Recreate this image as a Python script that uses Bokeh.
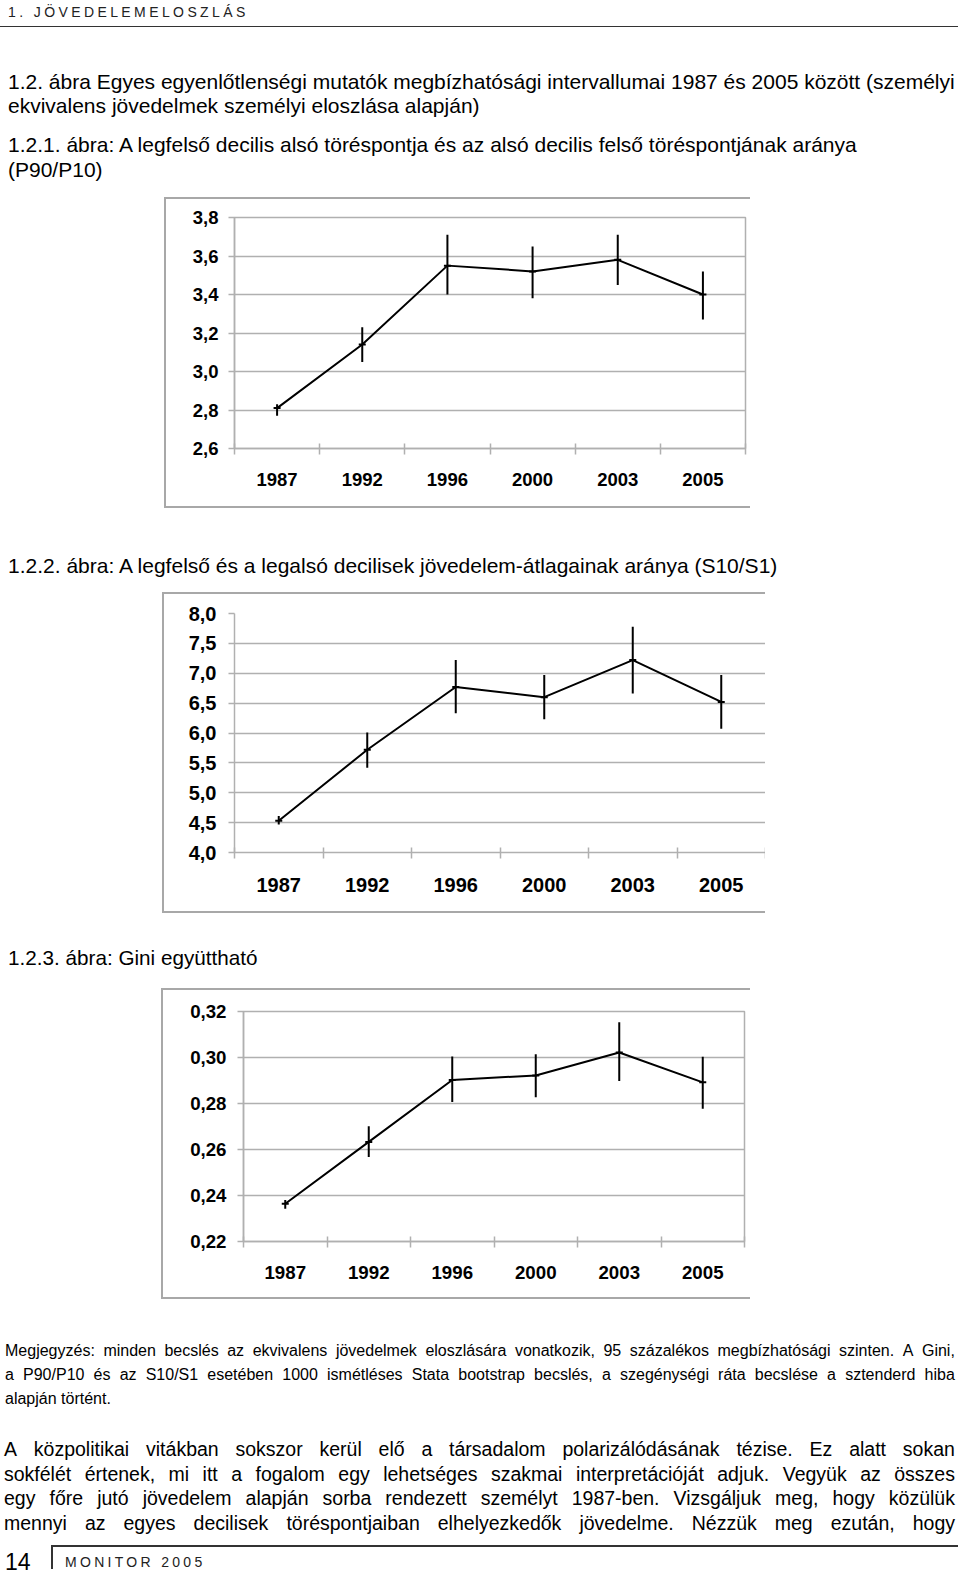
from bokeh.plotting import figure
from bokeh.models import Range1d, FixedTicker, Div, Spacer
from bokeh.layouts import column, row
from bokeh.embed import file_html
from bokeh.resources import INLINE

# ---------------- data ----------------
years = ["1987", "1992", "1996", "2000", "2003", "2005"]

p90_mid = [2.81, 3.14, 3.55, 3.52, 3.58, 3.40]
p90_lo = [2.77, 3.05, 3.40, 3.38, 3.45, 3.27]
p90_hi = [2.83, 3.23, 3.71, 3.65, 3.71, 3.52]
p90_ticks = [2.6, 2.8, 3.0, 3.2, 3.4, 3.6, 3.8]
p90_labels = ["2,6", "2,8", "3,0", "3,2", "3,4", "3,6", "3,8"]

s10_mid = [4.53, 5.72, 6.77, 6.60, 7.22, 6.52]
s10_lo = [4.47, 5.42, 6.33, 6.23, 6.66, 6.07]
s10_hi = [4.61, 6.01, 7.22, 6.97, 7.78, 6.97]
s10_ticks = [4.0, 4.5, 5.0, 5.5, 6.0, 6.5, 7.0, 7.5, 8.0]
s10_labels = ["4,0", "4,5", "5,0", "5,5", "6,0", "6,5", "7,0", "7,5", "8,0"]

gini_mid = [0.2364, 0.2633, 0.2902, 0.2922, 0.3022, 0.2892]
gini_lo = [0.2342, 0.2567, 0.2807, 0.2827, 0.2898, 0.2777]
gini_hi = [0.2380, 0.2701, 0.3004, 0.3014, 0.3153, 0.3003]
gini_ticks = [0.22, 0.24, 0.26, 0.28, 0.30, 0.32]
gini_labels = ["0,22", "0,24", "0,26", "0,28", "0,30", "0,32"]

GRAY = "#b0b0b0"
FRAME = "#a8a8a8"
FONT = "'Liberation Sans', Arial, sans-serif"


def make_chart(w, h, ylim, ticks, labels, mid, lo, hi, bl, br, bt, bb,
               fsize, ystand, xstand, outline=True):
    p = figure(width=w, height=h, x_range=Range1d(-0.5, len(years) - 0.5),
               y_range=Range1d(*ylim), output_backend="svg", toolbar_location=None,
               min_border_left=bl, min_border_right=br, min_border_top=bt,
               min_border_bottom=bb, margin=0,
               styles={"box-shadow": f"inset 2px 0 0 0 {FRAME}, inset 0 2px 0 0 {FRAME}, inset 0 -2px 0 0 {FRAME}"})
    p.background_fill_color = None
    p.border_fill_color = None
    p.outline_line_color = GRAY if outline else None
    p.outline_line_width = 1.5
    xs = list(range(len(years)))
    p.segment(x0=xs, y0=lo, x1=xs, y1=hi, line_color="black", line_width=2)
    p.line(xs, mid, line_color="black", line_width=2)
    p.scatter(xs, mid, marker="dash", size=7, line_color="black", line_width=2)

    xa = p.xaxis[0]
    xa.ticker = FixedTicker(ticks=xs, minor_ticks=[x - 0.5 for x in xs] + [len(xs) - 0.5])
    xa.major_label_overrides = {i: yv for i, yv in enumerate(years)}
    xa.major_tick_line_color = None
    xa.major_tick_in = 0
    xa.major_tick_out = 0
    xa.minor_tick_line_color = GRAY
    xa.minor_tick_line_width = 1.5
    xa.minor_tick_in = 5
    xa.minor_tick_out = 6
    xa.axis_line_color = GRAY
    xa.axis_line_width = 1.5
    xa.major_label_standoff = xstand

    ya = p.yaxis[0]
    ya.ticker = FixedTicker(ticks=ticks, minor_ticks=[])
    ya.major_label_overrides = dict(zip(ticks, labels))
    ya.major_tick_in = 0
    ya.major_tick_out = 6
    ya.major_tick_line_color = GRAY
    ya.major_tick_line_width = 1.5
    ya.minor_tick_line_color = None
    ya.axis_line_color = GRAY
    ya.axis_line_width = 1.5
    ya.major_label_standoff = ystand

    for ax in (xa, ya):
        ax.major_label_text_font = "Liberation Sans"
        ax.major_label_text_font_style = "bold"
        ax.major_label_text_font_size = f"{fsize}px"
        ax.major_label_text_color = "black"

    p.xgrid.visible = False
    p.ygrid.ticker = FixedTicker(ticks=ticks, minor_ticks=[])
    p.ygrid.grid_line_color = GRAY
    p.ygrid.grid_line_width = 1.5
    return p


def txt(text, left, yc, size, ls=0, width=None, color="#000"):
    top = yc - 0.5865 * size
    base = (f"position:absolute;left:{left}px;top:{top:.1f}px;font-size:{size}px;"
            f"line-height:{1.2 * size:.2f}px;white-space:nowrap;letter-spacing:{ls}px;color:{color};")
    if width:
        inner = "".join(f"<span>{w}</span>" for w in text.split(" "))
        return (f'<div style="{base}width:{width}px;display:flex;'
                f'justify-content:space-between;">{inner}</div>')
    return f'<div style="{base}">{text}</div>'


def rule(left, top, w, h, color="#333"):
    return (f'<div style="position:absolute;left:{left}px;top:{top}px;width:{w}px;'
            f'height:{h}px;background:{color};"></div>')


def block(h, parts):
    html = (f'<div style="position:relative;width:950px;height:{h}px;font-family:{FONT};">'
            + "".join(parts) + "</div>")
    return Div(text=html, width=950, height=h, margin=0, styles={"overflow": "visible"})


# ---------------- texts ----------------
header = "1. JÖVEDELEMELOSZLÁS"
title_l1 = "1.2. ábra Egyes egyenlőtlenségi mutatók megbízhatósági intervallumai 1987 és 2005 között (személyi"
title_l2 = "ekvivalens jövedelmek személyi eloszlása alapján)"
t1_l1 = "1.2.1. ábra: A legfelső decilis alsó töréspontja és az alsó decilis felső töréspontjának aránya"
t1_l2 = "(P90/P10)"
t2 = "1.2.2. ábra: A legfelső és a legalsó decilisek jövedelem-átlagainak aránya (S10/S1)"
t3 = "1.2.3. ábra: Gini együttható"
note = [
    "Megjegyzés: minden becslés az ekvivalens jövedelmek eloszlására vonatkozik, 95 százalékos megbízhatósági szinten. A Gini,",
    "a P90/P10 és az S10/S1 esetében 1000 ismétléses Stata bootstrap becslés, a szegénységi ráta becslése a sztenderd hiba",
    "alapján történt.",
]
para = [
    "A közpolitikai vitákban sokszor kerül elő a társadalom polarizálódásának tézise. Ez alatt sokan",
    "sokfélét értenek, mi itt a fogalom egy lehetséges szakmai interpretációját adjuk. Vegyük az összes",
    "egy főre jutó jövedelem alapján sorba rendezett személyt 1987-ben. Vizsgáljuk meg, hogy közülük",
    "mennyi az egyes decilisek töréspontjaiban elhelyezkedők jövedelme. Nézzük meg ezután, hogy",
]
footer_num = "14"
footer_txt = "MONITOR 2005"

TS = 21  # title font size

div1 = block(189, [
    txt(header, 0, 4.5, 14, ls=3.4, color="#222"),
    rule(-8, 17.5, 958, 1.5),
    txt(title_l1, 0, 73.5, TS),
    txt(title_l2, 0, 97.5, TS),
    txt(t1_l1, 0, 135.8, TS),
    txt(t1_l2, 0, 161, TS),
])

fig1 = make_chart(586, 311, (2.6, 3.8), p90_ticks, p90_labels, p90_mid, p90_lo, p90_hi,
                  70, 5, 20, 60, 18.5, 10, 18)

div2 = block(84, [txt(t2, 0, 57, TS)])

fig2 = make_chart(603, 321, (4.0, 8.0), s10_ticks, s10_labels, s10_mid, s10_lo, s10_hi,
                  72, 0, 21, 61, 20, 12, 19, outline=False)

div3 = block(75, [txt(t3, 0, 45, 20.7)])

fig3 = make_chart(589, 311, (0.22, 0.32), gini_ticks, gini_labels, gini_mid, gini_lo, gini_hi,
                  82, 6, 23, 58, 18.7, 11, 18)

parts4 = []
for i, line in enumerate(note):
    yc = 51.5 + 24 * i
    parts4.append(txt(line, -3, yc, 16, width=950 if i < 2 else None))
for i, line in enumerate(para):
    yc = 150.5 + 24.6 * i
    parts4.append(txt(line, -4, yc, 19.5, width=951))
parts4.append(rule(43, 246, 907, 2))
parts4.append(rule(43, 246, 2, 24))
parts4.append(txt(footer_num, -3, 263.5, 23))
parts4.append(txt(footer_txt, 57, 263.5, 14, ls=3.3, color="#222"))
div4 = block(270, parts4)

content = column(
    div1,
    row(Spacer(width=156, height=311, margin=0), fig1, spacing=0, margin=0),
    div2,
    row(Spacer(width=154, height=321, margin=0), fig2, spacing=0, margin=0),
    div3,
    row(Spacer(width=153, height=311, margin=0), fig3, spacing=0, margin=0),
    div4,
    spacing=0, margin=0,
)

layout = column(
    Spacer(width=958, height=8, margin=0),
    row(Spacer(width=8, height=1561, margin=0), content, spacing=0, margin=0),
    spacing=0, margin=0,
)

open("out.html", "w").write(file_html(layout, INLINE))
